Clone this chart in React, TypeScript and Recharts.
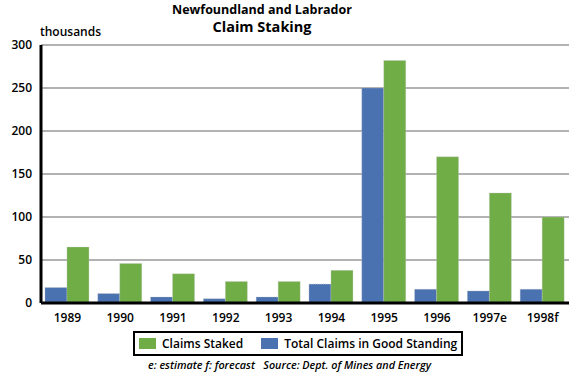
import { BarChart, Bar, XAxis, YAxis, CartesianGrid } from 'recharts';

const years = ['1989', '1990', '1991', '1992', '1993', '1994', '1995', '1996', '1997e', '1998f'];
const claimsStaked = [65, 46, 34, 25, 25, 38, 282, 170, 128, 100];
const goodStanding = [18, 11, 7, 5, 7, 22, 250, 16, 14, 16];
const yTicks = [0, 50, 100, 150, 200, 250, 300];

const data = years.map((year, i) => ({
    year,
    staked: claimsStaked[i],
    standing: goodStanding[i],
}));

const GREEN = '#70ad47';
const BLUE = '#4a72b0';
const FONT = '"Open Sans", "DejaVu Sans", sans-serif';

const legendItems = [
    { label: 'Claims Staked', color: GREEN },
    { label: 'Total Claims in Good Standing', color: BLUE },
];

const App = () => {
    return (
        <div style={{ position: 'absolute', left: 0, top: 0, width: 581, height: 381, background: '#fff', fontFamily: FONT, color: '#000' }}>
            <div style={{ position: 'absolute', left: 0, width: 524, top: 2, textAlign: 'center', fontSize: 12.5, lineHeight: '15px', fontWeight: 700 }}>
                Newfoundland and Labrador
            </div>
            <div style={{ position: 'absolute', left: 0, width: 524, top: 18, textAlign: 'center', fontSize: 14.5, lineHeight: '17px', fontWeight: 700 }}>
                Claim Staking
            </div>
            <div style={{ position: 'absolute', left: 40, top: 25, fontSize: 12, lineHeight: '14px', fontWeight: 600 }}>thousands</div>

            <BarChart
                width={581}
                height={381}
                data={data}
                margin={{ top: 45, right: 12, bottom: 48, left: 0 }}
                barCategoryGap="7.5%"
                barGap={0}
            >
                <CartesianGrid vertical={false} stroke="#999" strokeWidth={1.5} />
                <XAxis
                    dataKey="year"
                    height={30}
                    tickLine={false}
                    tickSize={0}
                    tickMargin={10}
                    axisLine={{ stroke: '#000', strokeWidth: 3 }}
                    tick={{ fill: '#000', fontSize: 12, fontWeight: 600, fontFamily: FONT }}
                    interval={0}
                />
                <XAxis xAxisId="top" dataKey="year" orientation="top" height={0} tick={false} tickLine={false} axisLine={{ stroke: '#000', strokeWidth: 3 }} />
                <YAxis
                    domain={[0, 300]}
                    ticks={yTicks}
                    width={41}
                    tickLine={false}
                    tickSize={0}
                    tickMargin={9}
                    axisLine={{ stroke: '#000', strokeWidth: 3 }}
                    tick={{ fill: '#000', fontSize: 12, fontWeight: 600, fontFamily: FONT }}
                />
                <YAxis yAxisId="right" orientation="right" width={0} domain={[0, 300]} tick={false} tickLine={false} axisLine={{ stroke: '#000', strokeWidth: 3 }} />
                <Bar dataKey="standing" name="Total Claims in Good Standing" fill={BLUE} stroke="#c8c8c8" strokeWidth={0.6} strokeDasharray="1 1" isAnimationActive={false} />
                <Bar dataKey="staked" name="Claims Staked" fill={GREEN} stroke="#c8c8c8" strokeWidth={0.6} strokeDasharray="1 1" isAnimationActive={false} />
            </BarChart>

            <div
                style={{
                    position: 'absolute',
                    left: 133,
                    top: 331,
                    width: 326,
                    height: 21,
                    border: '2px solid #000',
                    display: 'flex',
                    alignItems: 'center',
                    fontSize: 12,
                    fontWeight: 600,
                    whiteSpace: 'nowrap',
                }}
            >
                {legendItems.map((item, i) => (
                    <span key={item.label} style={{ display: 'flex', alignItems: 'center' }}>
                        <span style={{ width: 17, height: 11, background: item.color, marginLeft: i === 0 ? 4 : 18, marginRight: 6 }} />
                        <span>{item.label}</span>
                    </span>
                ))}
            </div>

            <div style={{ position: 'absolute', left: 148, top: 359, fontSize: 10.8, lineHeight: '12px', fontWeight: 600, fontStyle: 'italic', whiteSpace: 'nowrap' }}>
                e: estimate f: forecast&nbsp;&nbsp;&nbsp;Source: Dept. of Mines and Energy
            </div>
        </div>
    );
};

export default App;
